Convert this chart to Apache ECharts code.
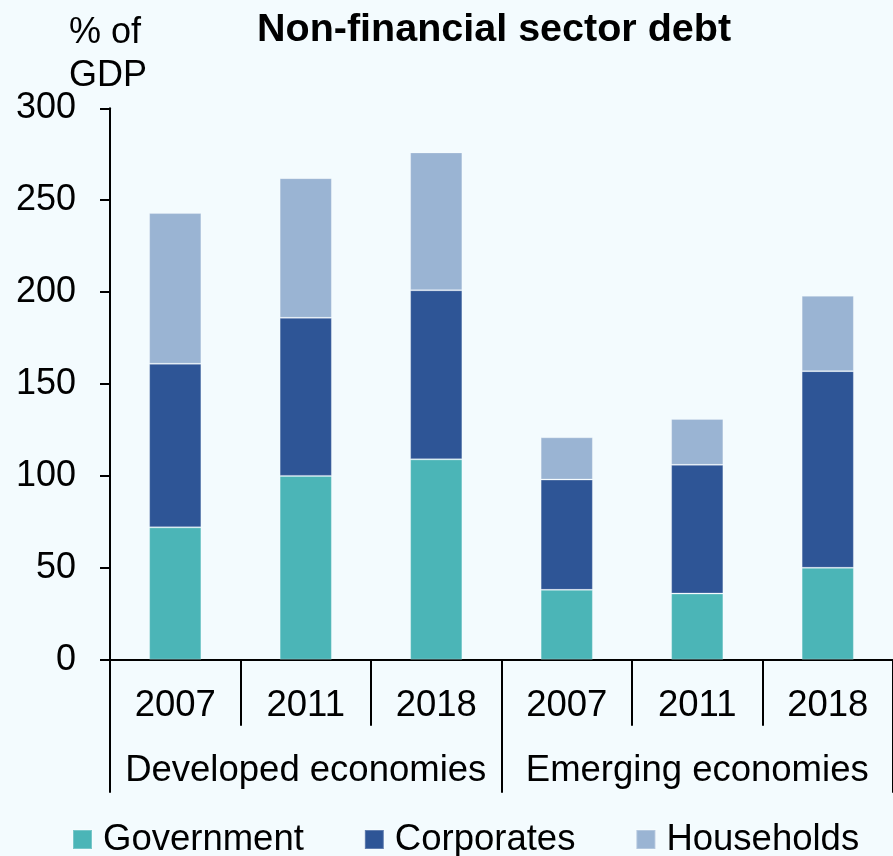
<!DOCTYPE html>
<html>
<head>
<meta charset="utf-8">
<script src="https://cdn.jsdelivr.net/npm/echarts@6/dist/echarts.min.js"></script>
<style>
  html, body { margin: 0; padding: 0; background: #F3FBFE; }
  #chart { width: 893px; height: 856px; }
</style>
</head>
<body>
<div id="chart"></div>
<script>
// Non-financial sector debt, % of GDP
const years = ['2007', '2011', '2018', '2007', '2011', '2018'];
const groups = ['Developed economies', 'Emerging economies'];
const government = [72, 100, 109, 38, 36, 50];
const corporates = [89, 86, 92, 60, 70, 107];
const households = [82, 76, 75, 23, 25, 41];
const yTicks = [0, 300, 50]; // min, max, step

const FONT = 'Liberation Sans, Arial, sans-serif';
const INK = '#000000';
const LINE_W = 2;

const chart = echarts.init(document.getElementById('chart'), null, { renderer: 'canvas' });

function bar(name, data, color) {
  return {
    name, type: 'bar', stack: 'debt', data,
    xAxisIndex: 0, barWidth: '40%',
    itemStyle: { color, borderColor: 'rgba(255,255,255,0.25)', borderWidth: 1 },
    emphasis: { disabled: true }
  };
}

chart.setOption({
  backgroundColor: '#F3FBFE',
  animation: false,
  textStyle: { fontFamily: FONT, color: INK },
  title: {
    text: 'Non-financial sector debt',
    left: 257, top: 10, padding: 0,
    textStyle: { fontFamily: FONT, fontSize: 39.5, fontWeight: 'bold', color: INK, lineHeight: 40 }
  },
  graphic: [{
    type: 'text', left: 69, top: 12,
    style: { text: '% of\nGDP', font: '36px ' + FONT, fill: INK, align: 'center', lineHeight: 43 }
  }],
  legend: {
    left: 72, top: 821, padding: 0,
    icon: 'rect', itemWidth: 19, itemHeight: 19, itemGap: 60,
    selectedMode: false,
    textStyle: { fontFamily: FONT, fontSize: 36.5, color: INK, lineHeight: 36, padding: [0, 0, 0, 6] },
    data: ['Government', 'Corporates', 'Households']
  },
  grid: { left: 110, top: 108.3, width: 786, height: 551.4, containLabel: false },
  xAxis: [{
    type: 'category', data: years, position: 'bottom',
    axisLine: { show: true, lineStyle: { color: INK, width: LINE_W } },
    axisTick: { show: true, interval: 0, length: 66, lineStyle: { color: INK, width: LINE_W } },
    axisLabel: { interval: 0, margin: 28, fontSize: 36.5, color: INK, fontFamily: FONT, lineHeight: 36 }
  }, {
    type: 'category', data: groups, position: 'bottom',
    axisLine: { show: false },
    axisTick: { show: true, interval: 0, length: 133, lineStyle: { color: INK, width: LINE_W } },
    axisLabel: { interval: 0, margin: 93, fontSize: 36.5, color: INK, fontFamily: FONT, lineHeight: 36 }
  }],
  yAxis: {
    type: 'value', min: yTicks[0], max: yTicks[1], interval: yTicks[2],
    axisLine: { show: true, lineStyle: { color: INK, width: LINE_W } },
    axisTick: { show: true, length: 10, lineStyle: { color: INK, width: LINE_W } },
    splitLine: { show: false },
    axisLabel: { margin: 34, fontSize: 36, color: INK, fontFamily: FONT }
  },
  series: [
    bar('Government', government, '#4BB5B7'),
    bar('Corporates', corporates, '#2E5596'),
    bar('Households', households, '#9AB4D3')
  ]
});
</script>
</body>
</html>
